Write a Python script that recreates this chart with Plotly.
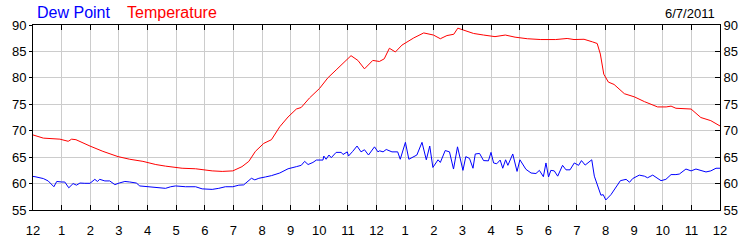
import plotly.graph_objects as go

# Hours since midnight (0 = 12 AM, 24 = next 12 AM)
temp_hours = [0.00, 0.36, 0.94, 1.23, 1.35, 1.50, 1.99, 2.44, 2.97, 3.38, 3.84, 4.29, 4.63, 4.98,
              5.21, 5.68, 5.97, 6.26, 6.61, 6.98, 7.30, 7.54, 7.77, 8.06, 8.33, 8.62, 8.91, 9.20,
              9.37, 9.66, 10.01, 10.30, 10.59, 10.88, 11.11, 11.35, 11.58, 11.87, 12.10, 12.27,
              12.45, 12.66, 12.89, 13.30, 13.65, 13.99, 14.23, 14.46, 14.70, 14.84, 15.04, 15.39,
              15.74, 16.14, 16.50, 16.84, 17.27, 17.74, 18.26, 18.66, 18.90, 19.25, 19.55, 19.71,
              19.82, 19.94, 20.10, 20.30, 20.66, 21.01, 21.36, 21.82, 22.12, 22.29, 22.46, 22.99,
              23.33, 23.68, 24.00]
temperature = [69.2, 68.6, 68.4, 68.0, 68.4, 68.3, 67.1, 66.1, 65.1, 64.6, 64.2, 63.6, 63.3, 63.05,
               62.9, 62.8, 62.6, 62.4, 62.3, 62.4, 63.2, 64.2, 66.1, 67.6, 68.3, 70.75, 72.6, 74.1,
               74.4, 76.2, 78.0, 80.0, 81.5, 83.0, 84.2, 83.3, 81.7, 83.3, 83.1, 83.6,
               85.6, 84.9, 86.2, 87.55, 88.5, 88.1, 87.4, 88.0, 88.25, 89.4, 89.0, 88.4,
               88.1, 87.8, 88.1, 87.7, 87.4, 87.25, 87.25, 87.45, 87.25, 87.3, 86.8, 86.5,
               84.5, 80.7, 79.2, 78.75, 77.0, 76.4, 75.5, 74.5, 74.5, 74.65, 74.25, 74.1,
               72.5, 71.9, 70.9]

dew_hours = [0.00, 0.07, 0.36, 0.53, 0.73, 0.83, 1.00, 1.11, 1.25, 1.40, 1.52, 1.64, 1.81, 1.99,
             2.16, 2.25, 2.33, 2.51, 2.68, 2.86, 3.01, 3.21, 3.38, 3.61, 3.73, 4.02, 4.29, 4.63,
             4.81, 4.98, 5.33, 5.68, 5.91, 6.26, 6.49, 6.72, 6.98, 7.19, 7.36, 7.48, 7.63, 7.75,
             7.89, 8.12, 8.33, 8.62, 8.91, 9.20, 9.37, 9.49, 9.61, 9.78, 9.90, 10.13, 10.16, 10.24,
             10.34, 10.42, 10.59, 10.77, 10.83, 10.98, 11.02, 11.17, 11.32, 11.46, 11.58, 11.72,
             11.93, 12.05, 12.11, 12.23, 12.34, 12.54, 12.74, 12.83, 13.01, 13.13, 13.41, 13.59,
             13.74, 13.86, 13.97, 14.15, 14.23, 14.40, 14.55, 14.69, 14.83, 15.02, 15.12, 15.25,
             15.37, 15.45, 15.60, 15.74, 15.91, 16.00, 16.09, 16.20, 16.32, 16.41, 16.51, 16.59,
             16.76, 16.91, 17.01, 17.22, 17.40, 17.57, 17.69, 17.83, 17.92, 18.01, 18.09, 18.21,
             18.33, 18.50, 18.62, 18.76, 18.91, 19.06, 19.16, 19.29, 19.52, 19.61, 19.72, 19.84,
             19.92, 20.01, 20.19, 20.37, 20.52, 20.72, 20.84, 20.95, 21.18, 21.36, 21.47, 21.65,
             21.94, 22.11, 22.29, 22.46, 22.58, 22.81, 22.99, 23.16, 23.39, 23.51, 23.68, 23.86,
             24.00]
dew_point = [61.35, 61.3, 60.95, 60.5, 59.4, 60.4, 60.3, 60.3, 59.2, 60.0, 59.7, 60.1, 60.05, 60.05,
             60.8, 60.4, 60.8, 60.5, 60.5, 59.8, 60.1, 60.4, 60.3, 60.1, 59.55, 59.4, 59.3, 59.1,
             59.4, 59.55, 59.4, 59.4, 59.0, 58.9, 59.1, 59.4, 59.4, 59.7, 59.75, 60.25, 61.0, 60.7,
             61.0, 61.25, 61.5, 62.0, 62.8, 63.2, 63.45, 64.2, 63.6, 64.0, 64.45, 64.45, 65.2, 64.6,
             65.4, 64.9, 65.9, 65.9, 65.5, 66.0, 65.2, 66.1, 67.1, 66.0, 66.4, 65.4,
             66.95, 66.0, 66.2, 66.0, 66.45, 66.0, 66.0, 64.6, 67.8, 64.6, 65.4, 67.8,
             64.5, 67.1, 63.05, 64.5, 64.0, 66.25, 66.0, 62.75, 66.95, 62.5, 65.1, 64.75,
             62.9, 65.6, 65.7, 64.35, 64.3, 65.9, 63.9, 63.75, 64.45, 62.9, 64.5, 63.45,
             65.6, 62.3, 64.5, 62.7, 62.0, 61.9, 62.5, 61.3, 63.9, 61.25, 62.5, 62.4,
             61.4, 63.45, 62.6, 62.6, 63.9, 63.45, 64.35, 63.5, 64.5, 61.4, 59.7, 57.8,
             57.9, 56.9, 57.9, 59.4, 60.55, 60.8, 60.25, 60.95, 61.6, 61.4, 61.1, 61.6,
             60.55, 60.8, 61.7, 61.7, 61.8, 62.75, 62.4, 62.75, 62.4, 62.2, 62.4, 62.9,
             62.9]

tick_hours = list(range(25))
tick_labels = ["12", "1", "2", "3", "4", "5", "6", "7", "8", "9", "10", "11",
               "12", "1", "2", "3", "4", "5", "6", "7", "8", "9", "10", "11", "12"]
y_ticks = [55, 60, 65, 70, 75, 80, 85, 90]
date_label = "6/7/2011"

FONT = "Liberation Sans, Arial, sans-serif"

fig = go.Figure()
fig.add_trace(go.Scatter(x=temp_hours, y=temperature, mode="lines", name="Temperature",
                         line=dict(color="#ff0000", width=1)))
fig.add_trace(go.Scatter(x=dew_hours, y=dew_point, mode="lines", name="Dew Point",
                         line=dict(color="#0000ff", width=1)))
# invisible trace to carry the right-hand axis
fig.add_trace(go.Scatter(x=[0], y=[55], yaxis="y2", mode="markers",
                         marker=dict(opacity=0), showlegend=False, hoverinfo="skip"))

fig.update_layout(
    width=750, height=250,
    margin=dict(l=31, r=30, t=25, b=25),
    paper_bgcolor="white", plot_bgcolor="white",
    showlegend=False,
    font=dict(family=FONT, size=13, color="#000000"),
    xaxis=dict(range=[0, 24], tickvals=tick_hours, ticktext=tick_labels,
               showgrid=True, gridcolor="#cccccc", gridwidth=1,
               showline=True, linecolor="#000000", linewidth=1, mirror="ticks",
               ticks="inside", ticklen=5, tickcolor="#000000",
               ticklabelstandoff=8,
               zeroline=False, tickfont=dict(size=13)),
    yaxis=dict(range=[55, 90], tickvals=y_ticks,
               showgrid=True, gridcolor="#cccccc", gridwidth=1,
               showline=True, linecolor="#000000", linewidth=1,
               ticks="outside", ticklen=3, tickcolor="#000000",
               zeroline=False, tickfont=dict(size=13)),
    yaxis2=dict(range=[55, 90], tickvals=y_ticks, overlaying="y", side="right",
                showgrid=False, showline=True, linecolor="#000000", linewidth=1,
                ticks="inside", ticklen=5, tickcolor="#000000",
                zeroline=False, tickfont=dict(size=13)),
    annotations=[
        dict(text="Dew Point", x=0.003, y=1.065, xref="paper", yref="paper",
             xanchor="left", yanchor="middle", showarrow=False,
             font=dict(family=FONT, size=16, color="#0000ff")),
        dict(text="Temperature", x=0.1335, y=1.065, xref="paper", yref="paper",
             xanchor="left", yanchor="middle", showarrow=False,
             font=dict(family=FONT, size=16, color="#ff0000")),
        dict(text=date_label, x=0.9956, y=1.06, xref="paper", yref="paper",
             xanchor="right", yanchor="middle", showarrow=False,
             font=dict(family=FONT, size=13, color="#000000")),
    ],
)

fig.write_html("out.html")
